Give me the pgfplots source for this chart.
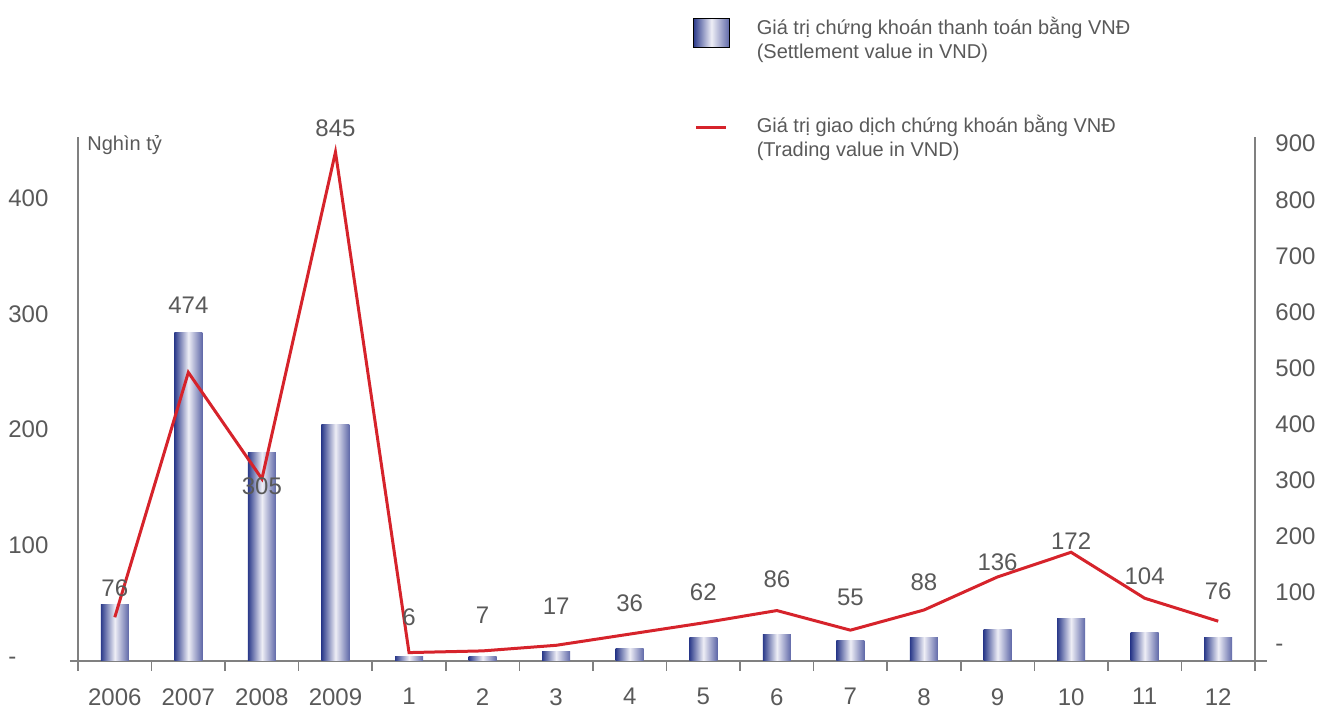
\documentclass[border=0pt]{standalone}
\usepackage{fontspec}
\setmainfont{Liberation Sans}
\usepackage{pgfplots}
\usepackage{pgfplotstable}
\pgfplotsset{compat=1.18}

\definecolor{txt}{HTML}{595959}
\definecolor{axgray}{HTML}{808080}
\definecolor{barL}{HTML}{2B3A8A}
\definecolor{barM}{HTML}{EEEEF6}
\definecolor{barR}{HTML}{5F68A8}
\definecolor{lineRed}{HTML}{D6232B}

% settlement value (left axis)
\pgfplotstableread{
x bar
0 49
1 284
2 180.6
3 204.7
4 4.3
5 4.3
6 7.8
7 11.2
8 20.7
9 23.3
10 17.3
11 20.7
12 26.8
13 37.1
14 24.2
15 20.7
}\settle

% trading value (right axis), as drawn
\pgfplotstableread{
x trade
0 55
1 492
2 302
3 885
4 -8
5 -5
6 5
7 25
8 45
9 67
10 32
11 68
12 127
13 171
14 89
15 48
}\trade

% printed labels and where they sit
\pgfplotstableread{
x y lab
0 107 76
1 612 474
2 289 305
3 928 845
4 55 6
5 59 7
6 75 17
7 80 36
8 100 62
9 123 86
10 91 55
11 118 88
12 153 136
13 191 172
14 128 104
15 102 76
}\labels

\begin{document}
\begin{tikzpicture}
\path[use as bounding box] (-39pt,-24.5pt) rectangle (619.5pt,330.5pt);

\begin{axis}[
  scale only axis, width=588.5pt, height=262pt,
  xmin=-0.5, xmax=15.5, ymin=0, ymax=453,
  axis x line*=bottom, axis y line*=left,
  axis line style={draw=axgray, line width=0.8pt},
  x axis line style={shorten <=-4pt, shorten >=-6pt},
  xtick={0,...,15},
  xticklabels={2006,2007,2008,2009,1,2,3,4,5,6,7,8,9,10,11,12},
  minor xtick={-0.5,0.5,...,15.5},
  major tick length=0pt,
  minor tick length=5pt,
  tick align=outside,
  minor tick style={draw=axgray, line width=0.8pt},
  ytick={0,100,200,300,400},
  yticklabels={-,100,200,300,400},
  tick label style={font=\fontsize{12}{14}\selectfont, text=txt, inner sep=0pt},
  xticklabel style={anchor=north, yshift=-13.5pt},
  yticklabel style={anchor=west, xshift=-35pt},
  ylabel={Nghìn tỷ},
  every axis y label/.style={at={(rel axis cs:0,1)}, anchor=west, xshift=4.5pt, yshift=-4pt,
    font=\fontsize{10}{12}\selectfont, text=txt, inner sep=0pt},
  clip=false,
  unbounded coords=discard,
]
% one plot per bar so each bar gets its own gradient
\pgfplotsinvokeforeach{0,...,15}{
  \addplot[ybar, bar width=14pt, draw=none, left color=barL, right color=barR, middle color=barM,
    x filter/.expression={abs(x-#1)<0.1 ? x : nan}]
    table[x=x, y=bar]{\settle};
}
\end{axis}

\begin{axis}[
  scale only axis, width=588.5pt, height=262pt,
  xmin=-0.5, xmax=15.5, ymin=-23, ymax=912,
  axis x line=none, axis y line*=right,
  axis line style={draw=axgray, line width=0.8pt},
  ytick={0,100,...,900},
  yticklabels={-,100,200,300,400,500,600,700,800,900},
  major tick length=0pt,
  tick label style={font=\fontsize{12}{14}\selectfont, text=txt, inner sep=0pt},
  yticklabel style={anchor=west, xshift=10pt},
  clip=false,
  legend style={at={(rel axis cs:0.5225,1)}, anchor=north west, yshift=62pt,
    draw=none, fill=none, inner sep=0pt, outer sep=0pt,
    row sep=23pt, column sep=11.5pt,
    font=\fontsize{10}{12}\selectfont, text=txt,
    cells={anchor=west, align=left, inner sep=0pt}},
]
\addlegendimage{legend image code/.code={
  \path[left color=barL, right color=barR, middle color=barM] (0pt,-3.95pt) rectangle (18pt,10.55pt);}}
\addlegendentry{Giá trị chứng khoán thanh toán bằng VNĐ\\(Settlement value in VND)}
\addlegendimage{legend image code/.code={
  \draw[lineRed, line width=1.5pt] (1.5pt,5.2pt) -- (16.5pt,5.2pt);}}
\addlegendentry{Giá trị giao dịch chứng khoán bằng VNĐ\\(Trading value in VND)}

\addplot[lineRed, line width=1.5pt, mark=none, forget plot] table[x=x, y=trade]{\trade};
\addplot[draw=none, mark=none, forget plot, nodes near coords, point meta=explicit symbolic,
  every node near coord/.append style={anchor=center, inner sep=0pt,
    font=\fontsize{12}{14}\selectfont, text=txt}]
  table[x=x, y=y, meta=lab]{\labels};
\end{axis}
\end{tikzpicture}
\end{document}
